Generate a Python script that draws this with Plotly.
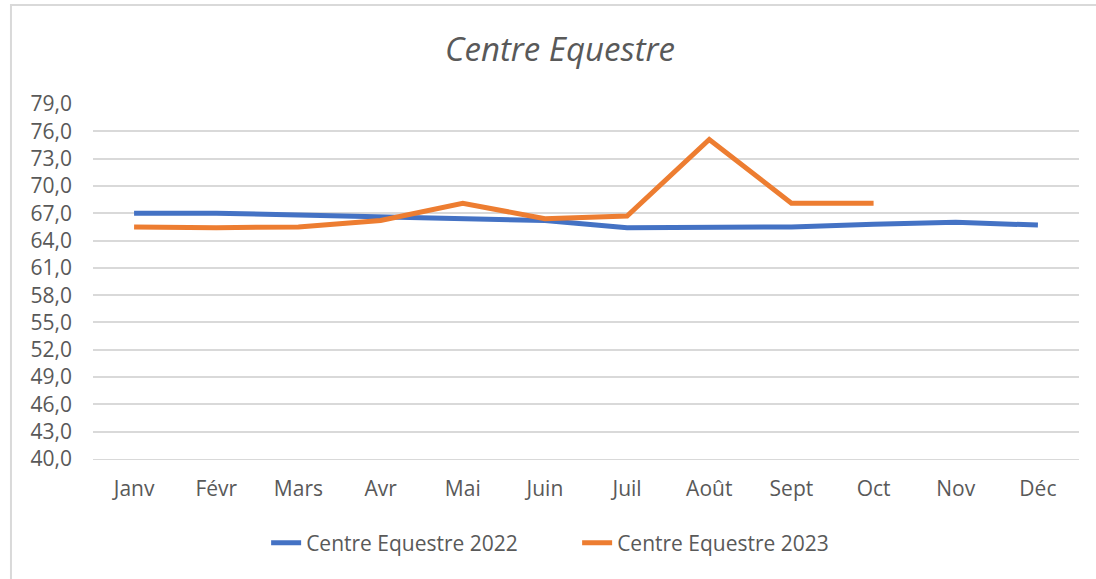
import plotly.graph_objects as go

months = ["Janv", "Févr", "Mars", "Avr", "Mai", "Juin", "Juil", "Août", "Sept", "Oct", "Nov", "Déc"]
values_2022 = [67.0, 67.0, 66.8, 66.6, 66.4, 66.2, 65.4, 65.5, 65.5, 65.8, 66.0, 65.7]
values_2023 = [65.5, 65.4, 65.5, 66.2, 68.1, 66.4, 66.7, 75.1, 68.1, 68.1, None, None]
y_ticks = [40, 43, 46, 49, 52, 55, 58, 61, 64, 67, 70, 73, 76, 79]
y_tick_labels = [f"{v},0" for v in y_ticks]

FONT = "Open Sans, Segoe UI, sans-serif"
GRAY = "#595959"

fig = go.Figure()
fig.add_trace(go.Scatter(x=months, y=values_2022, mode="lines", name="Centre Equestre 2022",
                         line=dict(color="#4472C4", width=5)))
fig.add_trace(go.Scatter(x=months, y=values_2023, mode="lines", name="Centre Equestre 2023",
                         line=dict(color="#ED7D31", width=5)))

fig.update_layout(
    width=1096, height=579,
    margin=dict(l=93, r=17, t=104, b=120),
    paper_bgcolor="white", plot_bgcolor="white",
    font=dict(family=FONT, color=GRAY, size=21),
    title=dict(text="<i>Centre Equestre</i>", xref="container", x=0.511, xanchor="center",
               yref="container", y=0.915, yanchor="middle",
               font=dict(size=33, color=GRAY, family=FONT)),
    showlegend=True,
    legend=dict(orientation="h", x=0.491, xanchor="center", y=-0.237, yanchor="middle",
                font=dict(size=21, color=GRAY), traceorder="normal",
                entrywidth=266, entrywidthmode="pixels"),
    shapes=[dict(type="rect", xref="paper", yref="paper", x0=-0.0832, x1=1.05, y0=-0.45, y1=1.279,
                 line=dict(color="#D9D9D9", width=2), fillcolor="rgba(0,0,0,0)", layer="below")],
)
fig.update_xaxes(range=[-0.5, 11.5], showgrid=False, zeroline=False, showline=True,
                 linecolor="#D9D9D9", linewidth=1, ticks="",
                 tickfont=dict(size=21, color=GRAY), ticklabelstandoff=11)
fig.update_yaxes(range=[40, 79], tickvals=y_ticks, ticktext=y_tick_labels, showgrid=True,
                 gridcolor="#D9D9D9", gridwidth=1.5, zeroline=False, showline=False, ticks="",
                 tickfont=dict(size=21, color=GRAY), ticklabelstandoff=20)

fig.write_html("out.html", config={"displayModeBar": False},
               post_script="document.body.style.margin='0';")
